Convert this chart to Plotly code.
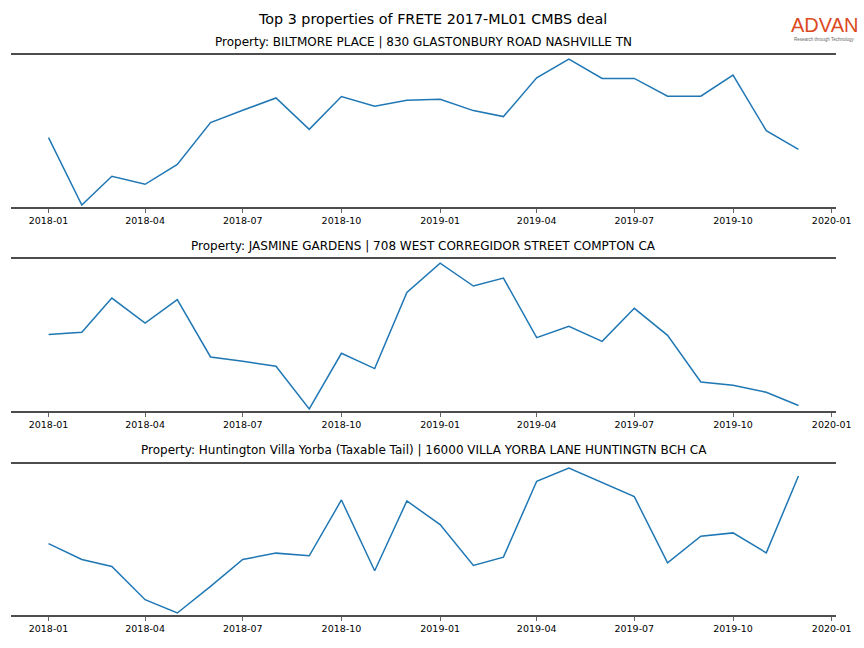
import plotly.graph_objects as go

months = ["2018-01-01", "2018-02-01", "2018-03-01", "2018-04-01", "2018-05-01", "2018-06-01",
          "2018-07-01", "2018-08-01", "2018-09-01", "2018-10-01", "2018-11-01", "2018-12-01",
          "2019-01-01", "2019-02-01", "2019-03-01", "2019-04-01", "2019-05-01", "2019-06-01",
          "2019-07-01", "2019-08-01", "2019-09-01", "2019-10-01", "2019-11-01", "2019-12-01"]

suptitle = "Top 3 properties of FRETE 2017-ML01 CMBS deal"
titles = [
    "Property: BILTMORE PLACE | 830 GLASTONBURY ROAD NASHVILLE TN",
    "Property: JASMINE GARDENS | 708 WEST CORREGIDOR STREET COMPTON CA",
    "Property: Huntington Villa Yorba (Taxable Tail) | 16000 VILLA YORBA LANE HUNTINGTN BCH CA",
]

biltmore = [690, 20, 306, 226, 423, 840, 963, 1086, 773, 1100, 1003, 1063,
            1073, 960, 900, 1286, 1473, 1280, 1280, 1103, 1103, 1313, 760, 573]
jasmine = [770, 793, 1136, 886, 1120, 546, 503, 453, 26, 583, 430, 1193,
           1486, 1256, 1336, 740, 853, 703, 1033, 763, 296, 263, 193, 60]
huntington = [716, 556, 486, 153, 20, 286, 556, 620, 593, 1153, 443, 1143,
              906, 496, 580, 1340, 1473, 1330, 1186, 523, 790, 823, 623, 1393]

series = [biltmore, jasmine, huntington]

W, H = 864, 648
x0, x1 = 11, 836
panels_px = [(55, 207), (259, 411), (464, 615)]
title_y_px = [42, 246, 450]

fig = go.Figure()
line_color = "#1f77b4"
spine_color = "#4d4d4d"

for i, vals in enumerate(series):
    n = i + 1
    xa = "x" if n == 1 else f"x{n}"
    ya = "y" if n == 1 else f"y{n}"
    fig.add_trace(go.Scatter(x=months, y=vals, mode="lines",
                             line=dict(color=line_color, width=1.5),
                             xaxis=xa, yaxis=ya, showlegend=False, hoverinfo="x+y"))
    top, bot = panels_px[i]
    lo, hi = min(vals), max(vals)
    span = hi - lo
    xkey = "xaxis" if n == 1 else f"xaxis{n}"
    ykey = "yaxis" if n == 1 else f"yaxis{n}"
    fig.update_layout(**{
        xkey: dict(domain=[x0 / W, x1 / W], anchor=ya,
                   range=["2017-11-27", "2020-01-05"],
                   type="date", tick0="2018-01-01", dtick="M3", tickformat="%Y-%m",
                   showline=True, mirror=True, linecolor=spine_color, linewidth=1.6,
                   ticks="outside", ticklen=4, tickwidth=1, tickcolor="#666",
                   showgrid=False, zeroline=False, automargin=False,
                   tickfont=dict(family="DejaVu Sans", size=9.5, color="#000")),
        ykey: dict(domain=[1 - bot / H, 1 - top / H], anchor=xa,
                   range=[lo - 0.014 * span, hi + 0.028 * span],
                   showline=False, showticklabels=False, showgrid=False,
                   zeroline=False, ticks="", automargin=False),
    })
    fig.add_annotation(text=titles[i], xref="paper", yref="paper",
                       x=(x0 + x1) / 2 / W, y=1 - title_y_px[i] / H,
                       xanchor="center", yanchor="middle", showarrow=False,
                       font=dict(family="DejaVu Sans", size=12, color="#000"))

fig.add_annotation(text=suptitle, xref="paper", yref="paper",
                   x=432 / W, y=1 - 19 / H, xanchor="center", yanchor="middle",
                   showarrow=False, font=dict(family="DejaVu Sans", size=14.3, color="#000"))

# logo
fig.add_annotation(text="ADVAN", xref="paper", yref="paper",
                   x=824 / W, y=1 - 37 / H, xanchor="center", yanchor="bottom",
                   showarrow=False, borderpad=0,
                   font=dict(family="Liberation Sans", size=20, color="#dc4a22"))
fig.add_annotation(text="Research through Technology", xref="paper", yref="paper",
                   x=824 / W, y=1 - 36 / H, xanchor="center", yanchor="top",
                   showarrow=False, borderpad=0,
                   font=dict(family="Liberation Sans", size=4.5, color="#666"))

fig.update_layout(width=W, height=H, autosize=False,
                  margin=dict(l=0, r=0, t=0, b=0, pad=0, autoexpand=False),
                  paper_bgcolor="white", plot_bgcolor="white",
                  font=dict(family="DejaVu Sans"))

post = ("document.body.style.margin='0';document.body.style.padding='0';"
        "document.documentElement.style.overflow='hidden';"
        "var gd=document.getElementById('{plot_id}');"
        "Plotly.relayout(gd,{width:%d,height:%d});" % (W, H))

fig.write_html("out.html", post_script=post,
               config={"responsive": False, "displayModeBar": False})
